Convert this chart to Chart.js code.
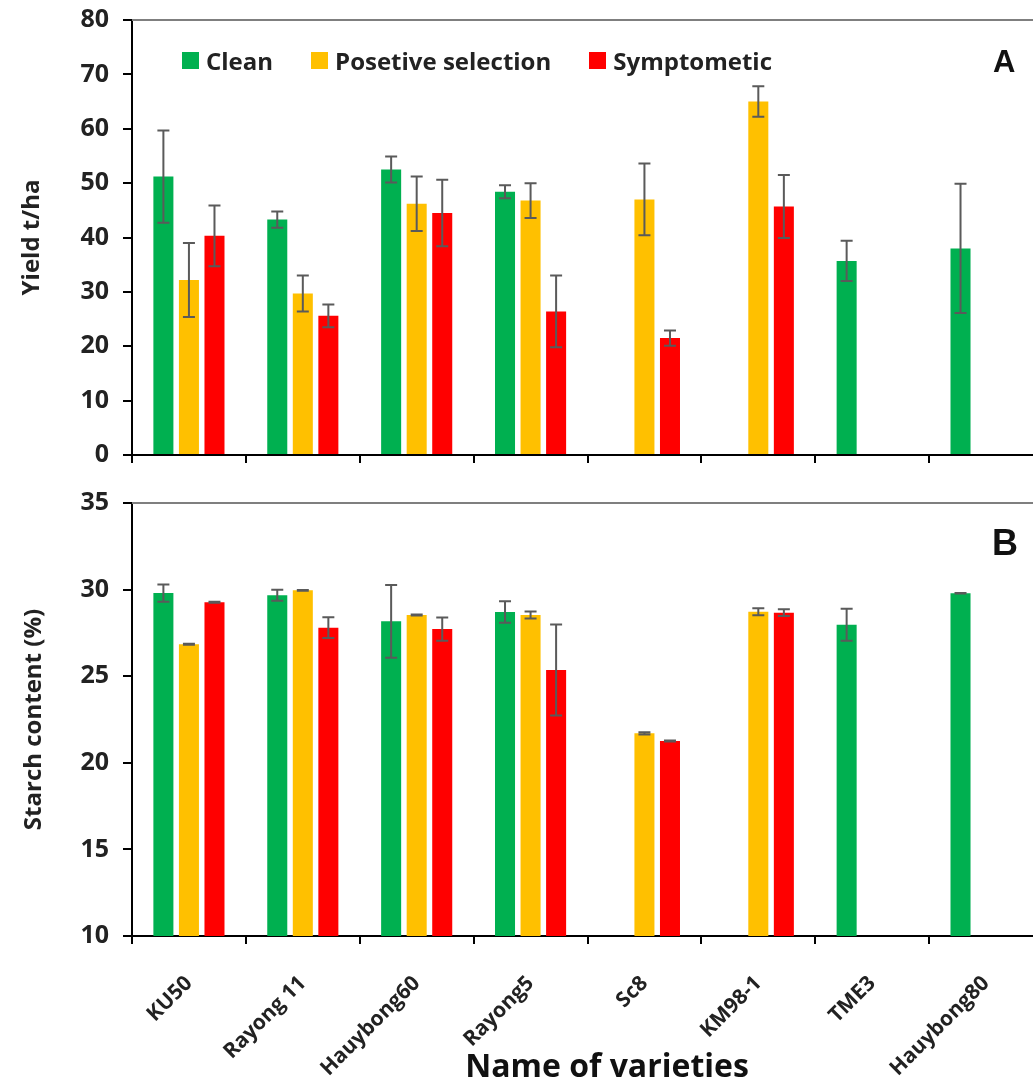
<!DOCTYPE html>
<html lang="en">
<head>
<meta charset="UTF-8">
<title>Yield and starch content by variety</title>
<script src="https://cdn.jsdelivr.net/npm/chart.js"></script>
<style>
  html, body { margin: 0; padding: 0; background: #fff; overflow: hidden; }
  body { width: 1033px; height: 1081px; position: relative; font-family: "Open Sans", sans-serif; }
  .wrap { position: absolute; left: 0; width: 1045px; }
  #wrapA { top: -9px; height: 493px; }
  #wrapB { top: 470px; height: 611px; }
  .legend { position: absolute; left: 182px; top: 44px; display: flex; align-items: center;
            font-weight: 700; font-size: 24px; color: #222; white-space: nowrap; }
  .legend .item { display: flex; align-items: center; margin-right: 38px; }
  .legend .box { width: 17px; height: 17px; margin-right: 7px; }
  .panel { position: absolute; font-family: "Liberation Sans", Arial, sans-serif; font-weight: 700; color: #111; line-height: 1; }
  .xtitle { position: absolute; left: 407px; width: 400px; top: 1049px; text-align: center;
            font-weight: 700; font-size: 32px; line-height: 1; color: #111; white-space: nowrap; }
</style>
</head>
<body>
<div class="wrap" id="wrapA"><canvas id="chartA"></canvas></div>
<div class="wrap" id="wrapB"><canvas id="chartB"></canvas></div>
<div class="legend" id="legend"></div>
<div class="panel" style="left:993px; top:46px; font-size:31px;">A</div>
<div class="panel" style="left:992px; top:525px; font-size:36px;">B</div>
<div class="xtitle">Name of varieties</div>

<script>
// varieties and series
const varieties = ['KU50', 'Rayong 11', 'Hauybong60', 'Rayong5', 'Sc8', 'KM98-1', 'TME3', 'Hauybong80'];
const seriesNames = ['Clean', 'Posetive selection', 'Symptometic'];
const seriesColors = ['#00B050', '#FFC000', '#FF0000'];

// A: yield (t/ha) and error bars
const yieldClean      = [51.2, 43.3, 52.5, 48.4, null, null, 35.7, 38.0];
const yieldCleanErr   = [8.5, 1.5, 2.4, 1.2, null, null, 3.7, 11.9];
const yieldPositive   = [32.2, 29.7, 46.2, 46.8, 47.0, 65.0, null, null];
const yieldPositiveErr= [6.8, 3.3, 5.0, 3.2, 6.6, 2.8, null, null];
const yieldSymptom    = [40.3, 25.6, 44.5, 26.4, 21.5, 45.7, null, null];
const yieldSymptomErr = [5.6, 2.1, 6.1, 6.6, 1.4, 5.8, null, null];

// B: starch content (%) and error bars
const starchClean      = [29.8, 29.67, 28.17, 28.71, null, null, 27.97, 29.79];
const starchCleanErr   = [0.5, 0.32, 2.1, 0.62, null, null, 0.93, 0.02];
const starchPositive   = [26.84, 29.96, 28.53, 28.53, 21.7, 28.72, null, null];
const starchPositiveErr= [0.03, 0.02, 0.03, 0.2, 0.06, 0.2, null, null];
const starchSymptom    = [29.27, 27.8, 27.72, 25.36, 21.26, 28.67, null, null];
const starchSymptomErr = [0.03, 0.6, 0.67, 2.63, 0.03, 0.2, null, null];

const FONT = '"Open Sans", sans-serif';
const TEXT = '#222';

// html legend
const legendEl = document.getElementById('legend');
seriesNames.forEach((name, i) => {
    const item = document.createElement('div');
    item.className = 'item';
    item.innerHTML = '<span class="box" style="background:' + seriesColors[i] + '"></span>' + name;
    legendEl.appendChild(item);
});

// error bars + top frame line
const errorBars = {
    id: 'errorBars',
    afterDatasetsDraw(chart) {
        const ctx = chart.ctx;
        const y = chart.scales.y;
        ctx.save();
        ctx.strokeStyle = '#5a5a5a';
        ctx.lineWidth = 2;
        chart.data.datasets.forEach((ds, i) => {
            const meta = chart.getDatasetMeta(i);
            meta.data.forEach((bar, j) => {
                const v = ds.data[j], e = ds.errors[j];
                if (v == null || e == null) return;
                const yt = y.getPixelForValue(v + e);
                const yb = y.getPixelForValue(v - e);
                const x = bar.x, cap = 6;
                ctx.beginPath();
                ctx.moveTo(x, yt); ctx.lineTo(x, yb);
                ctx.moveTo(x - cap, yt); ctx.lineTo(x + cap, yt);
                ctx.moveTo(x - cap, yb); ctx.lineTo(x + cap, yb);
                ctx.stroke();
            });
        });
        const a = chart.chartArea;
        ctx.strokeStyle = '#7f7f7f';
        ctx.lineWidth = 2;
        ctx.beginPath();
        ctx.moveTo(a.left, a.top); ctx.lineTo(a.right, a.top);
        ctx.stroke();
        ctx.restore();
    }
};

function makeDatasets(values, errors) {
    return values.map((vals, i) => ({
        label: seriesNames[i],
        data: vals,
        errors: errors[i],
        backgroundColor: seriesColors[i],
        categoryPercentage: 0.673,
        barPercentage: 0.784
    }));
}

function makeChart(id, datasets, yOpts, xOpts, padding) {
    return new Chart(document.getElementById(id), {
        type: 'bar',
        data: { labels: varieties, datasets: datasets },
        options: {
            responsive: true,
            maintainAspectRatio: false,
            animation: false,
            layout: { padding: padding },
            plugins: { legend: { display: false }, tooltip: { enabled: false } },
            scales: {
                x: Object.assign({
                    grid: { offset: true, drawOnChartArea: false, tickLength: 8, color: '#000', lineWidth: 2 },
                    border: { color: '#000', width: 2 }
                }, xOpts),
                y: Object.assign({
                    grid: { drawOnChartArea: false, tickLength: 9, color: '#000', lineWidth: 2 },
                    border: { color: '#000', width: 2 },
                    afterFit(s) { s.width = 132 - padding.left; }
                }, yOpts)
            }
        },
        plugins: [errorBars]
    });
}

makeChart('chartA',
    makeDatasets([yieldClean, yieldPositive, yieldSymptom], [yieldCleanErr, yieldPositiveErr, yieldSymptomErr]),
    {
        min: 0, max: 80,
        ticks: { stepSize: 10, color: TEXT, padding: 14, font: { family: FONT, weight: 'bold', size: 25 } },
        title: { display: true, text: 'Yield t/ha', color: TEXT, padding: { top: 0, bottom: 4 },
                 font: { family: FONT, weight: 'bold', size: 24 } }
    },
    { ticks: { display: false } },
    { left: 18, top: 10, right: 2, bottom: 7 }
);

makeChart('chartB',
    makeDatasets([starchClean, starchPositive, starchSymptom], [starchCleanErr, starchPositiveErr, starchSymptomErr]),
    {
        min: 10, max: 35,
        ticks: { stepSize: 5, color: TEXT, padding: 14, font: { family: FONT, weight: 'bold', size: 25 } },
        title: { display: true, text: 'Starch content (%)', color: TEXT, padding: { top: 0, bottom: 4 },
                 font: { family: FONT, weight: 'bold', size: 24 } }
    },
    {
        ticks: { color: TEXT, minRotation: 45, maxRotation: 45, padding: 27,
                 font: { family: FONT, weight: 'bold', size: 21 } },
        afterFit(s) { s.height = 142; }
    },
    { left: 20, top: 33, right: 2, bottom: 3 }
);
</script>
</body>
</html>
